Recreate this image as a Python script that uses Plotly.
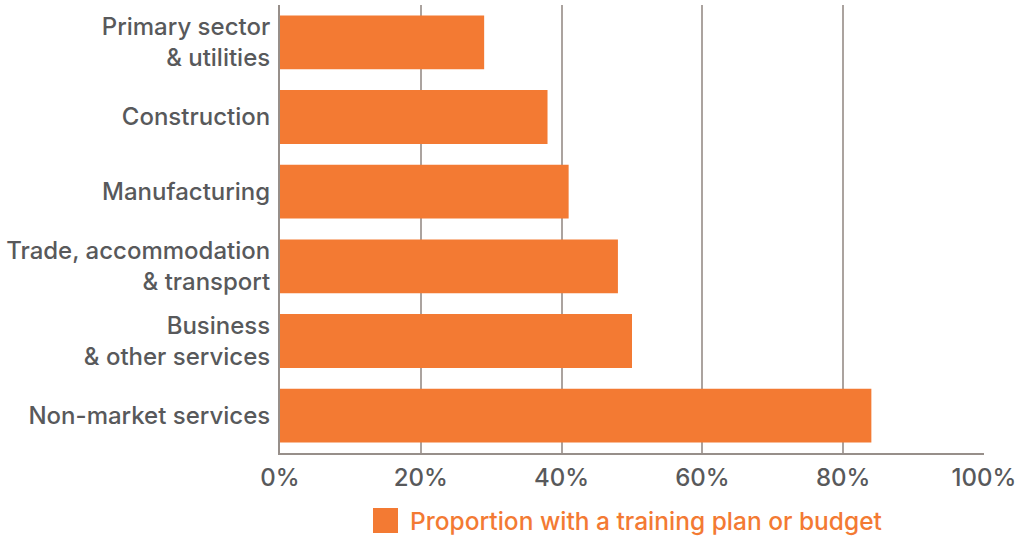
import plotly.graph_objects as go

categories = [
    "Primary sector<br>& utilities",
    "Construction",
    "Manufacturing",
    "Trade, accommodation<br>& transport",
    "Business<br>& other services",
    "Non-market services",
]
values = [29, 38, 41, 48, 50, 84]
x_ticks = [0, 20, 40, 60, 80, 100]
x_tick_labels = ["0%", "20%", "40%", "60%", "80%", "100%"]
legend_label = "Proportion with a training plan or budget"

ORANGE = "#F37A33"
TEXT = "#58595B"
GRID = "#ABA39F"
AXIS = "#978F8A"
FONT = "Inter, Liberation Sans, Arial, sans-serif"

fig = go.Figure(
    go.Bar(
        x=values,
        y=categories,
        orientation="h",
        marker=dict(color=ORANGE, line=dict(width=0)),
        name=legend_label,
        showlegend=False,
    )
)

fig.update_layout(
    width=1035,
    height=539,
    margin=dict(l=280, r=51, t=5, b=86),
    paper_bgcolor="white",
    plot_bgcolor="white",
    bargap=0.28,
    font=dict(family=FONT, size=24, color=TEXT, weight=500),
    xaxis=dict(
        range=[0, 100],
        tickvals=x_ticks,
        ticktext=x_tick_labels,
        showgrid=True,
        gridcolor=GRID,
        gridwidth=1.5,
        showline=True,
        linecolor=AXIS,
        linewidth=1.5,
        zeroline=False,
        ticks="",
        ticklabelstandoff=2,
        tickfont=dict(family=FONT, size=24, color=TEXT, weight=500),
        fixedrange=True,
    ),
    yaxis=dict(
        autorange="reversed",
        showgrid=False,
        showline=True,
        linecolor=AXIS,
        linewidth=2,
        zeroline=False,
        ticks="",
        ticklabelstandoff=3,
        tickfont=dict(family=FONT, size=24, color=TEXT, weight=500),
        fixedrange=True,
    ),
    shapes=[
        dict(
            type="rect",
            xref="paper",
            yref="paper",
            x0=(373 - 280) / 704,
            x1=(398 - 280) / 704,
            y0=-(533 - 453) / 448,
            y1=-(508 - 453) / 448,
            fillcolor=ORANGE,
            line=dict(width=0),
        )
    ],
    annotations=[
        dict(
            text=legend_label,
            xref="paper",
            yref="paper",
            x=(408 - 280) / 704,
            y=-(521 - 453) / 448,
            xanchor="left",
            yanchor="middle",
            showarrow=False,
            font=dict(family=FONT, size=24.5, color=ORANGE, weight=500),
        )
    ],
)

fig.write_html("out.html")
